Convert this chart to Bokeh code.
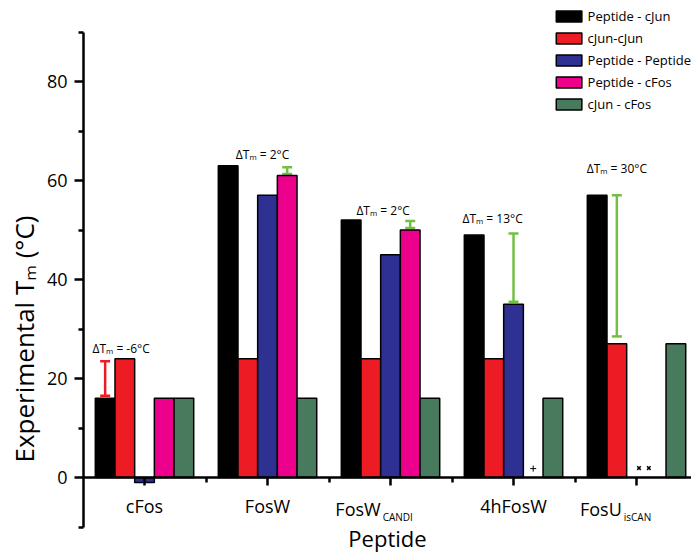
import math
from bokeh.plotting import figure
from bokeh.models import (ColumnDataSource, FixedTicker, Whisker, TeeHead, Legend,
                          LegendItem, Range1d, Title)
from bokeh.transform import dodge
from bokeh.core.properties import value
from bokeh.embed import file_html
from bokeh.resources import INLINE

nan = float("nan")

# ---------------- data ----------------
categories = ["cFos", "FosW", "FosW_CANDI", "4hFosW", "FosU_isCAN"]
tick_main = ["cFos", "FosW", "FosW", "4hFosW", "FosU"]
tick_sub = ["", "", "CANDI", "", "isCAN"]
series_names = ["Peptide - cJun", "cJun-cJun", "Peptide - Peptide", "Peptide - cFos", "cJun - cFos"]
peptide_cjun = [16, 63, 52, 49, 57]
cjun_cjun = [24, 24, 24, 24, 27]
peptide_peptide = [-1, 57, 45, 35, nan]
peptide_cfos = [16, 61, 50, nan, nan]
cjun_cfos = [16, 16, 16, 16, 27]

delta_tm = [-6, 2, 2, 13, 30]
delta_low = [16.5, 61.3, 50.4, 35.5, 28.5]
delta_high = [23.5, 62.7, 51.8, 49.3, 57.0]
delta_slot = [0, 3, 3, 2, 1]          # which bar of the group carries the ΔTm bar

y_ticks = [0, 20, 40, 60, 80]
y_minor = [-10, 10, 30, 50, 70, 90]

# ---------------- styling ----------------
FONT = "Open Sans"
colors = ["#000000", "#ED1C24", "#2E3192", "#EC008C", "#487A5E"]
err_colors = ["#ED1C24", "#72BF44", "#72BF44", "#72BF44", "#72BF44"]
bar_w = 0.16
offsets = [-2 * bar_w, -bar_w, 0.0, bar_w, 2 * bar_w]
groups = list(range(1, len(categories) + 1))

W, H = 691, 552
p = figure(width=W, height=H, output_backend="svg", toolbar_location=None,
           x_range=Range1d(0.504, 5.447), y_range=Range1d(-15.15, 94.95),
           min_border_left=83, min_border_right=0, min_border_top=7, min_border_bottom=0)
p.xgrid.visible = False
p.ygrid.visible = False
p.outline_line_color = None

# y axis
ya = p.yaxis[0]
ya.ticker = FixedTicker(ticks=y_ticks, minor_ticks=y_minor)
ya.bounds = (-10, 90)
ya.axis_line_width = 2.5
ya.major_tick_line_width = 2.5
ya.minor_tick_line_width = 2.5
ya.major_tick_out = 9
ya.major_tick_in = 0
ya.minor_tick_out = 5
ya.minor_tick_in = 0
ya.major_label_text_font = FONT
ya.major_label_text_font_size = "18px"
ya.major_label_text_color = "black"
ya.major_label_standoff = 7

# y title
ytitle = Title(text="Experimental Tₘ (°C)", align="left", offset=90,
               text_font=FONT, text_font_size="26px", text_font_style="normal",
               text_color="black", standoff=4)
p.add_layout(ytitle, "left")

# x axis at y = 0
xa = p.xaxis[0]
xa.fixed_location = 0
xa.ticker = FixedTicker(ticks=groups, minor_ticks=[g + 0.5 for g in groups[:-1]])
xa.major_label_overrides = {g: (m if not s else "") for g, m, s in zip(groups, tick_main, tick_sub)}
xa.axis_line_width = 2.5
xa.major_tick_line_width = 2.5
xa.minor_tick_line_width = 2.5
xa.major_tick_out = 8
xa.major_tick_in = 0
xa.minor_tick_out = 5
xa.minor_tick_in = 0
xa.major_label_text_font = FONT
xa.major_label_text_font_size = "18px"
xa.major_label_text_color = "black"
xa.major_label_standoff = 8
xa.axis_label = "Peptide"
xa.axis_label_text_font = FONT
xa.axis_label_text_font_size = "22px"
xa.axis_label_text_font_style = "normal"
xa.axis_label_text_color = "black"
xa.axis_label_standoff = 2

# bars
src = ColumnDataSource(dict(x=groups, s0=peptide_cjun, s1=cjun_cjun, s2=peptide_peptide,
                            s3=peptide_cfos, s4=cjun_cfos))
renderers = []
for i, name in enumerate(series_names):
    r = p.vbar(x=dodge("x", offsets[i]), top=f"s{i}", bottom=0, width=bar_w, source=src,
               fill_color=colors[i], line_color="black", line_width=1.5)
    renderers.append(r)

legend = Legend(items=[LegendItem(label=n, renderers=[r]) for n, r in zip(series_names, renderers)],
                location="top_right", orientation="vertical")
legend.glyph_width = 32
legend.glyph_height = 14
legend.label_height = 14
legend.spacing = 4
legend.padding = 9
legend.margin = 0
legend.label_standoff = 3
legend.border_line_color = None
legend.background_fill_alpha = 0
legend.label_text_font = FONT
legend.label_text_font_size = "13px"
legend.label_text_color = "black"
p.add_layout(legend)

# ΔTm bars
for color in sorted(set(err_colors)):
    idx = [k for k, c in enumerate(err_colors) if c == color]
    wsrc = ColumnDataSource(dict(
        base=[groups[k] + offsets[delta_slot[k]] for k in idx],
        lower=[delta_low[k] for k in idx],
        upper=[delta_high[k] for k in idx]))
    w = Whisker(source=wsrc, base="base", lower="lower", upper="upper",
                line_color=color, line_width=2.5,
                upper_head=TeeHead(size=10, line_color=color, line_width=2.5),
                lower_head=TeeHead(size=10, line_color=color, line_width=2.5))
    p.add_layout(w)

# ΔTm labels
label_dx = [-0.19, -0.04, -0.06, -0.17, -0.16]
label_dy = [-13, -13, -11, -15, -27]
tsrc = ColumnDataSource(dict(
    x=[g + dx for g, dx in zip(groups, label_dx)],
    y=delta_high,
    yo=label_dy,
    t=[f"ΔTₘ = {d}°C" for d in delta_tm]))
p.text(x="x", y="y", text="t", y_offset="yo", source=tsrc, text_font=value(FONT),
       text_font_size="12px", text_align="center", text_baseline="middle", text_color="black")

# missing-value markers
p.scatter(x=[groups[3] + offsets[3]], y=[1.8], marker="cross", size=6, line_color="black", line_width=1)
p.scatter(x=[groups[4] + 0.02, groups[4] + 0.10], y=[1.9, 1.9], marker="x", size=5,
          line_color="black", line_width=1.5)

# subscripted category labels
sub_idx = [k for k, s in enumerate(tick_sub) if s]
ssrc = ColumnDataSource(dict(
    x=[groups[k] - (0.08 if k == 2 else 0.12) for k in sub_idx],
    y=[0] * len(sub_idx),
    main=[tick_main[k] for k in sub_idx],
    sub=[tick_sub[k] for k in sub_idx]))
p.text(x="x", y="y", text="main", source=ssrc, y_offset=31, text_font=value(FONT),
       text_font_size="18px", text_align="right", text_baseline="alphabetic", text_color="black")
p.text(x="x", y="y", text="sub", source=ssrc, y_offset=39, x_offset=2, text_font=value(FONT),
       text_font_size="10px", text_align="left", text_baseline="alphabetic", text_color="black")

open("out.html", "w").write(file_html(p, INLINE))
